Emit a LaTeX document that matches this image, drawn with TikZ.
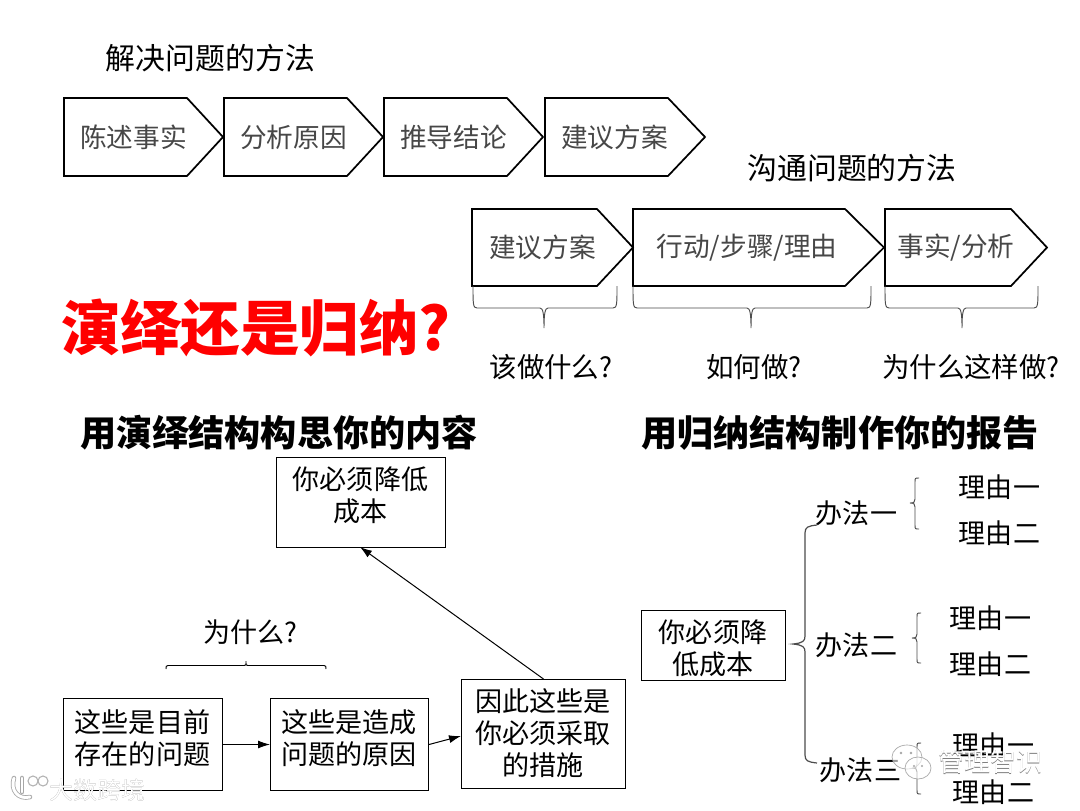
\documentclass[tikz,border=0pt]{standalone}
\usepackage{fontspec}
\setmainfont{Noto Sans CJK SC}
\newfontfamily\cjk{Noto Sans CJK SC}
\newcommand{\fsz}[2]{\fontsize{#1}{#2}\selectfont}
\newcommand{\pentbox}[7]{%
  \draw[pentline] (#1,#2) -- (#4,#2) -- (#5,{(#2+#3)/2}) -- (#4,#3) -- (#1,#3) -- cycle;
  \node[thintext] (#6) at ({(#1+#4)/2+8},{(#2+#3)/2}) {#7};}
\newcommand{\hbr}[6]{% x1 xm x2 ytop ymid ybot
  \draw[brace] (#1,#4) .. controls (#1,#5-4) and (#1,#5) .. (#1+4,#5) -- (#2-4,#5)
    .. controls (#2-1,#5) and (#2,#5+6) .. (#2,#6)
    .. controls (#2,#5+6) and (#2+1,#5) .. (#2+4,#5) -- (#3-4,#5)
    .. controls (#3,#5) and (#3,#5-4) .. (#3,#4);}
\newcommand{\vbr}[6]{% spine endx tipx ytop ymid ybot
  \draw[brace] (#2,#4) .. controls (#1,#4) and (#1,#4) .. (#1,#4+4) -- (#1,#5-4)
    .. controls (#1,#5-1) and (#1-1,#5) .. (#3,#5)
    .. controls (#1-1,#5) and (#1,#5+1) .. (#1,#5+4) -- (#1,#6-4)
    .. controls (#1,#6) and (#1,#6) .. (#2,#6);}
\tikzset{
  x=0.75pt,y=-0.75pt,
  pentline/.style={draw=black,line width=1.3pt,line join=miter},
  thintext/.style={text=black!72,inner sep=0pt,font=\fsz{20pt}{24pt}},
  plain/.style={text=black,inner sep=0pt,align=center,font=\fsz{20.3pt}{24pt}},
  title/.style={text=black,inner sep=0pt,font=\fsz{22.4pt}{26pt}},
  head/.style={text=black,inner sep=0pt,font=\bfseries\fsz{27.1pt}{30pt}},
  rect/.style={draw=black,line width=0.75pt,inner sep=0pt,align=center,text=black},
  conn/.style={draw=black,line width=0.75pt,-{Latex[length=9pt,width=6pt]}},
  brace/.style={draw=black!70,line width=0.7pt},
  wmark/.style={inner sep=0pt,text=white,font=\fsz{19.5pt}{22pt}},
  wshadow/.style={inner sep=0pt,text=black!50,font=\fsz{19.5pt}{22pt}},
}
\usetikzlibrary{arrows.meta}
\begin{document}
\begin{tikzpicture}
\useasboundingbox (0,0) rectangle (1080,810);
\fill[white] (0,0) rectangle (1080,810);

\node[title] (t1) at (210.5,58) {解决问题的方法};
\pentbox{64}{98}{176}{187}{223}{s1}{陈述事实}
\pentbox{224}{98}{176}{347}{383}{s2}{分析原因}
\pentbox{384}{98}{176}{507}{543}{s3}{推导结论}
\pentbox{545}{98}{176}{668}{705}{s4}{建议方案}

\node[title] (t2) at (852,168) {沟通问题的方法};
\pentbox{472}{209}{286}{597}{633}{c1}{建议方案}
\pentbox{633}{209}{286}{845}{884}{c2}{行动/步骤/理由}
\pentbox{885}{209}{286}{1011}{1047}{c3}{事实/分析}

\hbr{473}{544}{617}{286}{308}{328}
\hbr{633}{751}{871}{286}{308}{328}
\hbr{885}{962}{1038}{286}{308}{328}

\node[plain,font=\fsz{20.6pt}{24pt}] (q1) at (551,367) {该做什么?};
\node[plain,font=\fsz{20.6pt}{24pt}] (q2) at (754,367) {如何做?};
\node[plain,font=\fsz{20.6pt}{24pt}] (q3) at (971,367) {为什么这样做?};

\node[inner sep=0pt,text={rgb,255:red,255;green,0;blue,0},font=\bfseries\fsz{44.7pt}{48pt}] (red) at (256,328) {演绎还是归纳?};

\node[head] (h1) at (279,433) {用演绎结构构思你的内容};
\node[head] (h2) at (840,433) {用归纳结构制作你的报告};

\node[rect,minimum width=126.75pt,minimum height=67.5pt,anchor=north west] (top) at (276,457) {};
\node[plain] at (360.5,495) {你必须降低\\成本};

\node[rect,minimum width=119.25pt,minimum height=69pt,anchor=north west] (b1) at (63,698) {};
\node[plain] at (142.5,738) {这些是目前\\存在的问题};
\node[rect,minimum width=118.5pt,minimum height=69pt,anchor=north west] (b2) at (270,698) {};
\node[plain] at (349,738) {这些是造成\\问题的原因};
\node[rect,minimum width=123pt,minimum height=81.75pt,anchor=north west] (b3) at (461,679) {};
\node[plain] at (543,733.5) {因此这些是\\你必须采取\\的措施};

\draw[conn] (b1.east) -- (b2.west);
\draw[conn] (b2.east) -- (b3.west |- 0,736);
\draw[conn] (b3.north) -- (360,547);

\draw[brace,draw=black] (166,669) .. controls (166,666) .. (168,665.5) -- (244,665.5) .. controls (246,665.5) .. (246,661)
   .. controls (246,665.5) .. (248,665.5) -- (324,665.5) .. controls (326,666) .. (326,669);
\node[plain] (why) at (250.5,632) {为什么?};

\node[rect,minimum width=108pt,minimum height=52.5pt,anchor=north west] (root) at (641,610) {};
\node[plain] at (713,648) {你必须降\\低成本};

\draw[brace,line width=0.9pt] (817,525) .. controls (808,526) and (805,527) .. (805,533) -- (805,636)
  .. controls (805,641) and (803,643) .. (793,644)
  .. controls (803,645) and (805,647) .. (805,652) -- (805,755)
  .. controls (805,761) and (808,762) .. (817,763);

\node[plain] (m1) at (856.5,513) {办法一};
\node[plain] (m2) at (856.5,645) {办法二};
\node[plain] (m3) at (860.5,770) {办法三};

\vbr{915}{919}{910}{478}{503}{529}
\vbr{917}{921}{912}{613}{638}{663}
\vbr{917}{921}{912}{743}{768}{794}

\node[plain] (r11) at (999.5,487) {理由一};
\node[plain] (r12) at (999.5,533) {理由二};
\node[plain] (r21) at (990.5,618) {理由一};
\node[plain] (r22) at (990.5,664) {理由二};
\node[plain] (r31) at (993.5,745) {理由一};
\node[plain] (r32) at (993.5,792) {理由二};

% watermarks
\draw[black!35,line width=0.5pt,fill=white,fill opacity=0.6] (907,757) ellipse (15 and 12);
\draw[black!35,line width=0.5pt,fill=white,fill opacity=0.6] (918,768) ellipse (13 and 11);
\fill[black!35] (901,753) circle (1.4) (911,753) circle (1.4) (914,766) circle (1.2) (922,766) circle (1.2);
\node[wshadow] at (990.8,762.8) {管理智识};
\node[wmark] (w1) at (990,762) {管理智识};
\node[wshadow,font=\fsz{18pt}{20pt}] at (97.8,790.8) {大数跨境};
\node[wmark,font=\fsz{18pt}{20pt}] (w2) at (97,790) {大数跨境};
\draw[black!35,line width=3.4pt,line cap=round] (14,778) .. controls (10,790) and (18,800) .. (30,797);
\draw[black!35,line width=3.4pt,line cap=round] (22,778) -- (22,792);
\draw[white,line width=2.2pt,line cap=round] (14,778) .. controls (10,790) and (18,800) .. (30,797);
\draw[white,line width=2.2pt,line cap=round] (22,778) -- (22,792);
\draw[black!30,line width=0.8pt] (33,781) circle (5);
\draw[black!30,line width=0.8pt] (43,781) circle (5);
\end{tikzpicture}
\end{document}
